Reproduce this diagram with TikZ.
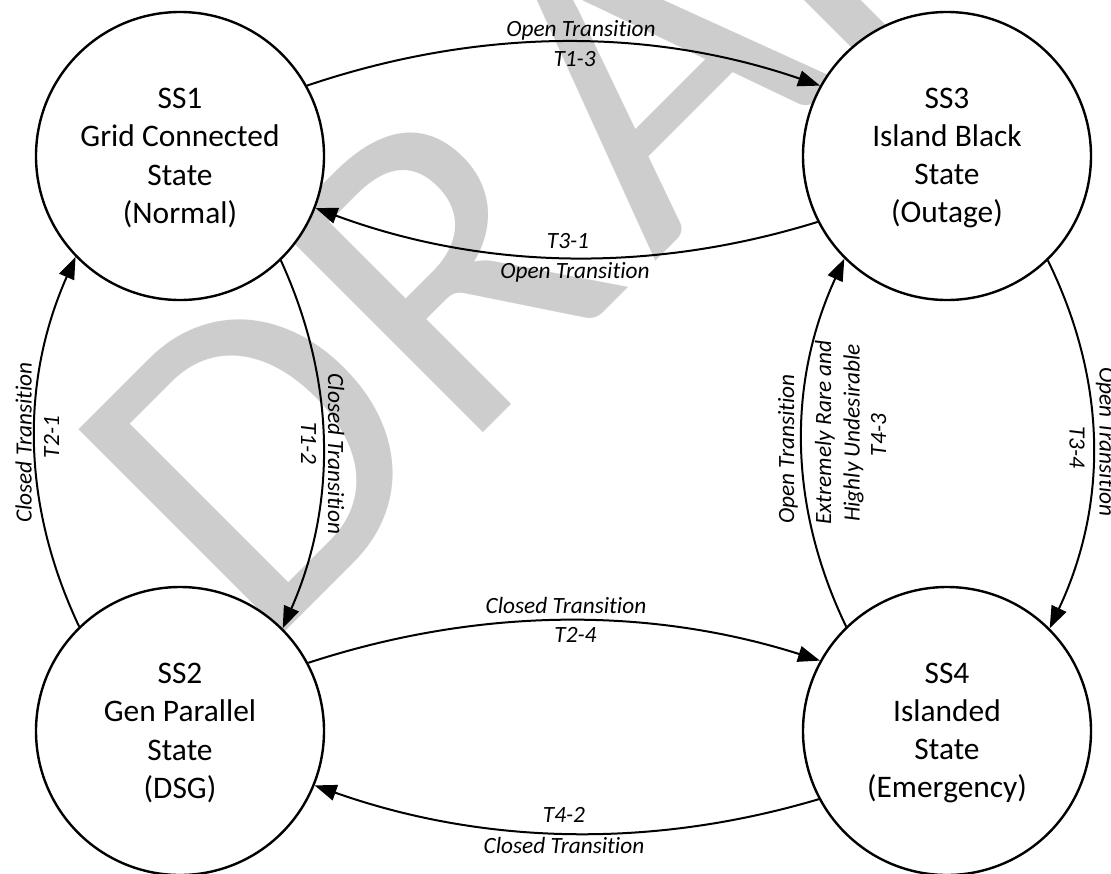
\documentclass[tikz,border=0pt]{standalone}
\usepackage{fontspec}
\setmainfont{Carlito}[Ligatures=NoCommon]
\newfontfamily\wmfont{Carlito}
\newfontfamily\stfont[Ligatures=NoCommon]{Carlito}
\usetikzlibrary{arrows.meta}
\definecolor{wmgray}{RGB}{205,205,205}
\begin{document}
\begin{tikzpicture}[x=1pt,y=-1pt,
  state/.style={circle, draw, line width=2.4pt, fill=white, minimum size=288pt, inner sep=0pt},
  stxt/.style={font=\stfont\fontsize{31.4}{38.3}\selectfont, align=center, inner sep=0pt},
  edge/.style={line width=2pt, -{Triangle[length=22pt,width=16pt]}},
  lbl/.style={font=\stfont\itshape\fontsize{23.3}{28}\selectfont, inner sep=0pt},
  wm/.style={font=\wmfont\fontsize{450}{450}\selectfont, text=wmgray, inner sep=0pt},
]
\useasboundingbox (0,0) rectangle (1111,873);
\fill[white] (0,0) rectangle (1111,873);
\begin{scope}
\clip (0,0) rectangle (1111,873);
\node[wm, rotate=45, anchor=base west] (wmark) at (261.6,655.3) {D\kern5pt R\kern30pt AFT};
\end{scope}

% states
\node[state, label={[stxt, yshift=-2pt]center:{SS1\\Grid Connected\\State\\(Normal)}}] (ss1) at (180,156) {};
\node[state, label={[stxt, yshift=-2pt]center:{SS3\\Island Black\\State\\(Outage)}}] (ss3) at (947,156) {};
\node[state, label={[stxt, yshift=-2pt]center:{SS2\\Gen Parallel\\State\\(DSG)}}] (ss2) at (180,731) {};
\node[state, label={[stxt, yshift=-2pt]center:{SS4\\Islanded\\State\\(Emergency)}}] (ss4) at (947,731) {};

% connectors
\draw[edge] (ss1.29) .. controls (479.4,27.3) and (650.2,27.3) .. (ss3.151);
\draw[edge] (ss3.207) .. controls (649,274.2) and (480.5,269.2) .. (ss1.339);
\draw[edge] (ss2.28.5) .. controls (479.4,606.8) and (650.2,606.8) .. (ss4.151.5);
\draw[edge] (ss4.208) .. controls (649.7,849.4) and (481.8,844.4) .. (ss2.338);
\draw[edge] (ss2.134.4) .. controls (21.1,503.7) and (20.7,380.7) .. (ss1.224.6);
\draw[edge] (ss1.314.6) .. controls (336.4,382) and (336.8,505) .. (ss2.45.1);
\draw[edge] (ss3.314.4) .. controls (1107.3,381.7) and (1108,504.3) .. (ss4.45.3);
\draw[edge] (ss4.134.7) .. controls (787.7,505) and (787.7,382) .. (ss3.225.3);

% labels
\node[lbl, anchor=base] (l13a) at (581,36) {Open Transition};
\node[lbl, anchor=base] (l13b) at (574.6,66.7) {T1-3};
\node[lbl, anchor=base] (l31a) at (568,248.3) {T3-1};
\node[lbl, anchor=base] (l31b) at (575,278.3) {Open Transition};
\node[lbl, anchor=base] (l24a) at (566,613.3) {Closed Transition};
\node[lbl, anchor=base] (l24b) at (575.5,642.7) {T2-4};
\node[lbl, anchor=base] (l42a) at (564,822.7) {T4-2};
\node[lbl, anchor=base] (l42b) at (564,853.3) {Closed Transition};

\node[lbl, rotate=90, anchor=base] (l21a) at (31.5,442.5) {Closed Transition};
\node[lbl, rotate=90, anchor=base] (l21b) at (59,437) {T2-1};
\node[lbl, rotate=-90, anchor=base] (l12a) at (328,454) {Closed Transition};
\node[lbl, rotate=-90, anchor=base] (l12b) at (301,443.3) {T1-2};
\node[lbl, rotate=-90, anchor=base] (l34a) at (1099.5,441.7) {Open Transition};
\node[lbl, rotate=-90, anchor=base] (l34b) at (1069.5,447.5) {T3-4};
\node[lbl, rotate=90, anchor=base] (l43a) at (794,449) {Open Transition};
\node[lbl, rotate=90, anchor=base] (l43b) at (831,432.5) {Extremely Rare and};
\node[lbl, rotate=90, anchor=base] (l43c) at (859.5,433) {Highly Undesirable};
\node[lbl, rotate=90, anchor=base] (l43d) at (886,435) {T4-3};
\end{tikzpicture}
\end{document}
